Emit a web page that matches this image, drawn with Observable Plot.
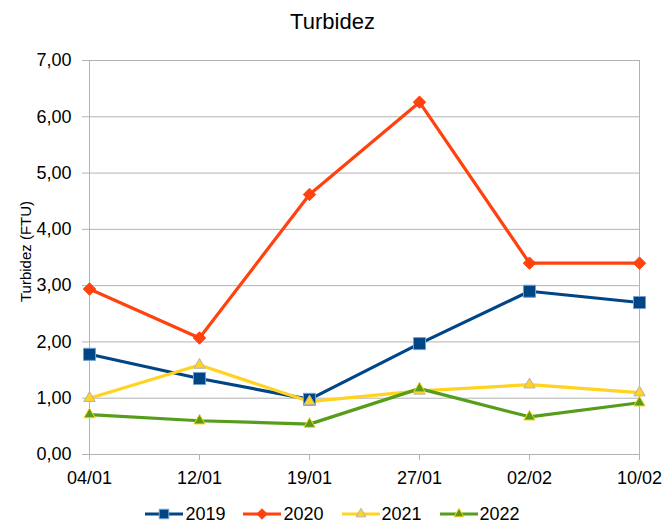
<!DOCTYPE html>
<html><head><meta charset="utf-8">
<script src="https://cdn.jsdelivr.net/npm/d3@7"></script>
<script src="https://cdn.jsdelivr.net/npm/@observablehq/plot@0.6"></script>
<style>
body{margin:0;background:#fff;font-family:"Liberation Sans",Arial,sans-serif;color:#000;}
#wrap{width:665px;height:525px;overflow:hidden;}
#title{height:40px;box-sizing:border-box;padding-top:3px;line-height:37px;text-align:center;font-size:22px;}
#chart svg{display:block;overflow:visible;}
#legend{height:35px;box-sizing:border-box;padding-top:13px;display:flex;justify-content:center;align-items:center;font-size:18px;line-height:20px;}
.item{display:flex;align-items:center;margin:0 9px;}
.item svg{display:block;margin-right:2px;}
</style></head><body>
<div id="wrap"><div id="title">Turbidez</div><div id="chart"></div><div id="legend"></div></div>
<script>
const dates = ["04/01", "12/01", "19/01", "27/01", "02/02", "10/02"];
const seriesNames = ["2019", "2020", "2021", "2022"];
const s2019 = [1.78, 1.35, 0.98, 1.97, 2.90, 2.70];
const s2020 = [2.94, 2.07, 4.62, 6.26, 3.40, 3.40];
const s2021 = [1.00, 1.59, 0.94, 1.13, 1.24, 1.10];
const s2022 = [0.71, 0.60, 0.54, 1.17, 0.67, 0.92];
const yTicks = [0, 1, 2, 3, 4, 5, 6, 7];

const lineColors = ["#004586", "#ff420e", "#ffd320", "#579d1c"];
const markerStroke = ["#729fcf", "#ff420e", "#b3b3b3", "#ffd320"];
const plotSymbols = ["square", "diamond2", "triangle2", "triangle2"];
const d3Symbols = [d3.symbolSquare, d3.symbolDiamond2, d3.symbolTriangle2, d3.symbolTriangle2];
const markerR = [6.8, 5.6, 5.4, 5.4];

const values = [s2019, s2020, s2021, s2022];
const rows = seriesNames.flatMap((s, i) => dates.map((d, j) => ({series: s, date: d, value: values[i][j]})));
const fmt = v => v.toFixed(2).replace(".", ",");

const marks = [
  Plot.gridY(yTicks, {stroke: "#b3b3b3", strokeOpacity: 1, strokeWidth: 1}),
  Plot.ruleX([dates[0], dates[dates.length - 1]], {stroke: "#b3b3b3", strokeWidth: 1}),
  Plot.axisX({tickSize: 6, tickPadding: 11, stroke: "#b3b3b3", fill: "#000", fontSize: 18, label: null}),
  Plot.axisY(yTicks, {tickSize: 5, tickPadding: 11, stroke: "#b3b3b3", fill: "#000", fontSize: 18, tickFormat: fmt,
    label: "Turbidez (FTU)", labelAnchor: "center", labelOffset: 67, labelArrow: "none"})
];
seriesNames.forEach((s, i) => {
  const data = rows.filter(r => r.series === s);
  marks.push(Plot.line(data, {x: "date", y: "value", stroke: lineColors[i], strokeWidth: 3.2, strokeLinejoin: "round"}));
});
seriesNames.forEach((s, i) => {
  const data = rows.filter(r => r.series === s);
  marks.push(Plot.dot(data, {x: "date", y: "value", symbol: () => plotSymbols[i], r: markerR[i], fill: lineColors[i], stroke: markerStroke[i], strokeWidth: 1}));
});

const chart = Plot.plot({
  width: 665, height: 450,
  marginTop: 20, marginBottom: 36, marginLeft: 87, marginRight: 25,
  style: {fontFamily: "'Liberation Sans', Arial, sans-serif", background: "#fff", color: "#000", overflow: "visible"},
  x: {type: "point", domain: dates, padding: 0},
  y: {domain: [0, 7]},
  symbol: {type: "identity"},
  marks
});
document.getElementById("chart").appendChild(chart);
const lab = chart.querySelector('[aria-label="y-axis label"]');
if (lab) {
  lab.setAttribute("font-size", "15");
  lab.querySelectorAll("text").forEach(t => { t.style.fontSize = "15px"; t.setAttribute("dx", "6"); });
}

const legend = document.getElementById("legend");
seriesNames.forEach((s, i) => {
  const item = document.createElement("div");
  item.className = "item";
  const sw = d3.create("svg").attr("width", 38).attr("height", 20);
  sw.append("line").attr("x1", 0).attr("x2", 38).attr("y1", 10).attr("y2", 10)
    .attr("stroke", lineColors[i]).attr("stroke-width", 3.2);
  sw.append("path").attr("transform", "translate(19,10)")
    .attr("d", d3.symbol(d3Symbols[i], i === 0 ? 90 : 70)())
    .attr("fill", lineColors[i]).attr("stroke", markerStroke[i]).attr("stroke-width", 1);
  item.appendChild(sw.node());
  const t = document.createElement("span");
  t.textContent = s;
  item.appendChild(t);
  legend.appendChild(item);
});
</script>
</body></html>
